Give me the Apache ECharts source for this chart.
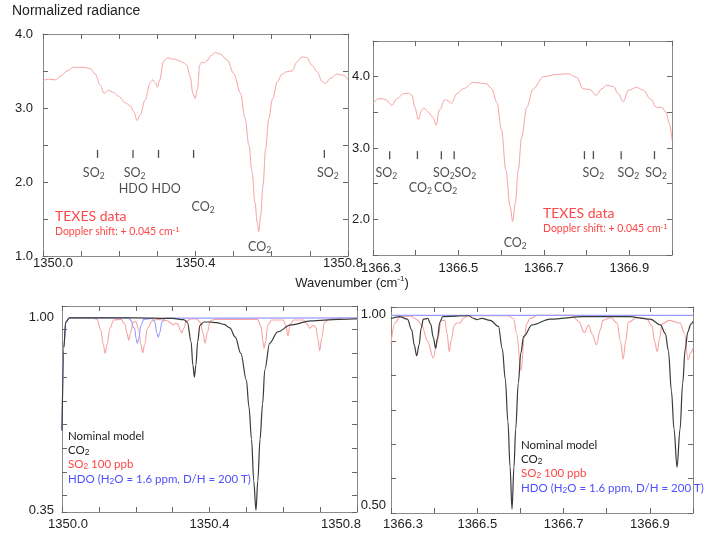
<!DOCTYPE html>
<html>
<head>
<meta charset="utf-8">
<title>Normalized radiance</title>
<script src="https://cdn.jsdelivr.net/npm/echarts@6.0.0/dist/echarts.min.js"></script>
<style>
  html, body { margin: 0; padding: 0; background: #fff; }
  #chart { width: 707px; height: 537px; }
</style>
</head>
<body>
<div id="chart"></div>
<script>
// ---- TEXES spectra (top panels), [wavenumber, radiance] ----
const texesA = [
  [1350.000,3.37],[1350.015,3.39],[1350.032,3.38],[1350.046,3.43],[1350.063,3.50],[1350.080,3.55],
  [1350.107,3.55],[1350.124,3.53],[1350.137,3.46],[1350.150,3.31],[1350.160,3.20],[1350.171,3.24],
  [1350.185,3.21],[1350.198,3.16],[1350.216,3.07],[1350.229,3.03],[1350.238,2.95],[1350.247,2.83],
  [1350.255,2.91],[1350.268,3.11],[1350.281,3.34],[1350.288,3.38],[1350.295,3.34],[1350.300,3.28],
  [1350.306,3.38],[1350.316,3.63],[1350.328,3.68],[1350.338,3.66],[1350.347,3.66],[1350.356,3.64],
  [1350.369,3.61],[1350.377,3.58],[1350.386,3.43],[1350.393,3.20],[1350.399,3.13],[1350.405,3.25],
  [1350.411,3.58],[1350.417,3.62],[1350.423,3.61],[1350.430,3.64],[1350.441,3.71],[1350.452,3.75],
  [1350.465,3.73],[1350.483,3.65],[1350.500,3.47],[1350.518,3.20],[1350.530,2.86],[1350.540,2.50],
  [1350.548,2.15],[1350.556,1.72],[1350.562,1.45],[1350.566,1.33],[1350.571,1.55],[1350.577,1.95],
  [1350.584,2.45],[1350.592,2.85],[1350.602,3.12],[1350.615,3.36],[1350.627,3.46],[1350.640,3.49],
  [1350.653,3.50],[1350.666,3.62],[1350.679,3.69],[1350.692,3.68],[1350.705,3.58],[1350.719,3.49],
  [1350.732,3.36],[1350.740,3.33],[1350.754,3.40],[1350.771,3.46],[1350.789,3.44],[1350.800,3.38]
];
const texesB = [
  [1366.300,3.62],[1366.312,3.69],[1366.324,3.69],[1366.332,3.67],[1366.344,3.60],[1366.356,3.69],
  [1366.371,3.76],[1366.383,3.77],[1366.391,3.74],[1366.398,3.57],[1366.406,3.40],[1366.414,3.53],
  [1366.419,3.56],[1366.430,3.50],[1366.440,3.43],[1366.448,3.32],[1366.455,3.53],[1366.469,3.68],
  [1366.476,3.66],[1366.484,3.63],[1366.496,3.76],[1366.511,3.83],[1366.535,3.92],[1366.551,3.91],
  [1366.566,3.90],[1366.578,3.83],[1366.590,3.64],[1366.601,3.25],[1366.611,2.69],[1366.621,2.18],
  [1366.627,1.97],[1366.633,2.22],[1366.640,2.69],[1366.648,3.15],[1366.660,3.57],[1366.675,3.83],
  [1366.699,4.00],[1366.730,4.03],[1366.757,4.04],[1366.777,3.99],[1366.792,3.83],[1366.808,3.82],
  [1366.822,3.74],[1366.836,3.83],[1366.847,3.88],[1366.863,3.86],[1366.874,3.76],[1366.886,3.65],
  [1366.898,3.81],[1366.917,3.85],[1366.933,3.81],[1366.949,3.69],[1366.964,3.57],[1366.976,3.57],
  [1366.986,3.50],[1366.994,3.34],[1367.000,3.11]
];

// ---- model spectra (bottom panels) ----
const co2C = [
  [1350.000,0.62],[1350.005,0.90],[1350.010,0.985],[1350.020,1.000],[1350.200,1.000],[1350.300,0.998],
  [1350.330,0.994],[1350.340,0.985],[1350.350,0.92],[1350.355,0.84],[1350.359,0.80],[1350.363,0.84],
  [1350.368,0.92],[1350.374,0.975],[1350.385,0.986],[1350.400,0.986],[1350.420,0.984],[1350.440,0.978],
  [1350.455,0.966],[1350.470,0.935],[1350.485,0.880],[1350.500,0.790],[1350.507,0.70],[1350.514,0.59],
  [1350.520,0.45],[1350.526,0.35],[1350.531,0.45],[1350.537,0.59],[1350.544,0.71],[1350.550,0.825],
  [1350.563,0.914],[1350.585,0.953],[1350.620,0.976],[1350.675,0.990],[1350.750,0.995],[1350.800,0.997]
];
const so2C = [
  [1350.000,0.62],[1350.005,0.90],[1350.010,0.985],[1350.020,1.000],[1350.080,1.000],[1350.095,0.995],
  [1350.105,0.96],[1350.112,0.91],[1350.117,0.88],[1350.122,0.91],[1350.130,0.965],[1350.140,0.993],
  [1350.160,0.995],[1350.170,0.98],[1350.176,0.95],[1350.181,0.924],[1350.186,0.95],[1350.193,0.985],
  [1350.200,0.988],[1350.208,0.96],[1350.214,0.91],[1350.219,0.882],[1350.224,0.91],[1350.232,0.965],
  [1350.245,0.99],[1350.260,0.995],[1350.285,0.99],[1350.296,0.982],[1350.302,0.976],[1350.308,0.982],
  [1350.315,0.978],[1350.320,0.96],[1350.325,0.95],[1350.330,0.965],[1350.338,0.99],[1350.350,0.996],
  [1350.365,0.996],[1350.375,0.985],[1350.382,0.95],[1350.388,0.914],[1350.394,0.95],[1350.402,0.99],
  [1350.415,0.995],[1350.530,0.995],[1350.540,0.97],[1350.545,0.92],[1350.548,0.898],[1350.552,0.92],
  [1350.558,0.975],[1350.568,0.993],[1350.600,0.993],[1350.607,0.975],[1350.613,0.939],[1350.618,0.975],
  [1350.628,0.993],[1350.655,0.993],[1350.665,0.978],[1350.672,0.965],[1350.680,0.975],[1350.688,0.97],
  [1350.694,0.93],[1350.699,0.889],[1350.704,0.93],[1350.712,0.985],[1350.725,0.997],[1350.800,0.996]
];
const hdoC = [
  [1350.000,0.62],[1350.005,0.90],[1350.010,0.985],[1350.020,1.000],[1350.180,1.000],[1350.188,0.99],
  [1350.193,0.968],[1350.197,0.965],[1350.201,0.93],[1350.204,0.914],[1350.208,0.93],[1350.214,0.975],
  [1350.222,0.995],[1350.245,0.998],[1350.252,0.985],[1350.257,0.95],[1350.261,0.935],[1350.265,0.95],
  [1350.271,0.985],[1350.280,0.999],[1350.800,1.000]
];
const co2D = [
  [1366.300,0.990],[1366.320,0.995],[1366.338,0.988],[1366.348,0.960],[1366.354,0.920],[1366.3595,0.892],
  [1366.365,0.920],[1366.370,0.965],[1366.375,0.988],[1366.385,0.990],[1366.392,0.975],[1366.398,0.940],
  [1366.4035,0.912],[1366.408,0.940],[1366.413,0.980],[1366.420,0.995],[1366.480,0.997],[1366.492,0.990],
  [1366.4985,0.987],[1366.510,0.990],[1366.530,0.985],[1366.549,0.969],[1366.558,0.910],[1366.565,0.830],
  [1366.571,0.720],[1366.576,0.600],[1366.5805,0.490],[1366.585,0.600],[1366.589,0.700],[1366.595,0.820],
  [1366.601,0.900],[1366.6075,0.943],[1366.627,0.973],[1366.669,0.988],[1366.746,0.995],[1366.850,0.995],
  [1366.901,0.988],[1366.9245,0.973],[1366.936,0.950],[1366.943,0.905],[1366.950,0.800],[1366.956,0.700],
  [1366.963,0.600],[1366.970,0.700],[1366.976,0.820],[1366.982,0.910],[1366.988,0.955],[1366.995,0.975],
  [1367.000,0.982]
];
const so2D = [
  [1366.300,0.925],[1366.309,0.978],[1366.321,0.994],[1366.345,0.996],[1366.359,0.988],[1366.371,0.973],
  [1366.385,0.930],[1366.398,0.886],[1366.407,0.930],[1366.417,0.985],[1366.425,0.985],[1366.430,0.950],
  [1366.435,0.903],[1366.440,0.935],[1366.446,0.970],[1366.452,0.978],[1366.460,0.978],[1366.468,0.991],
  [1366.480,0.997],[1366.570,0.997],[1366.584,0.990],[1366.591,0.952],[1366.6013,0.853],[1366.609,0.940],
  [1366.6145,0.975],[1366.622,0.990],[1366.640,0.998],[1366.720,0.998],[1366.735,0.982],[1366.748,0.953],
  [1366.758,0.973],[1366.766,0.950],[1366.776,0.921],[1366.785,0.960],[1366.791,0.985],[1366.810,0.992],
  [1366.824,0.978],[1366.832,0.930],[1366.838,0.883],[1366.844,0.930],[1366.850,0.980],[1366.870,0.992],
  [1366.892,0.990],[1366.905,0.970],[1366.911,0.930],[1366.917,0.903],[1366.923,0.940],[1366.928,0.975],
  [1366.944,0.985],[1366.970,0.978],[1366.980,0.952],[1366.9885,0.881],[1366.9945,0.900],[1367.000,0.912]
];
const hdoD = [[1366.300,0.998],[1366.650,0.998],[1367.000,0.998]];

// ---- line identifications in the TEXES panels: [wavenumber, radiance, text] ----
const marksA = [[1350.143,2.38],[1350.236,2.38],[1350.303,2.38],[1350.395,2.38],[1350.738,2.38]];
const tagsA = [
  [1350.133,2.12,'SO{s|2}'],[1350.240,2.12,'SO{s|2}'],[1350.237,1.91,'HDO'],[1350.323,1.91,'HDO'],
  [1350.420,1.66,'CO{s|2}'],[1350.568,1.12,'CO{s|2}'],[1350.747,2.12,'SO{s|2}']
];
const marksB = [[1366.339,2.90],[1366.404,2.90],[1366.460,2.90],[1366.490,2.90],
                [1366.795,2.90],[1366.816,2.90],[1366.881,2.90],[1366.959,2.90]];
const tagsB = [
  [1366.331,2.65,'SO{s|2}'],[1366.411,2.44,'CO{s|2}'],[1366.466,2.65,'SO{s|2}'],[1366.470,2.44,'CO{s|2}'],
  [1366.516,2.65,'SO{s|2}'],[1366.816,2.65,'SO{s|2}'],[1366.898,2.65,'SO{s|2}'],[1366.963,2.65,'SO{s|2}'],
  [1366.633,1.67,'CO{s|2}']
];

// ---- tick labels and tick spacing ----
const labels1350 = [1350.0,1350.4,1350.8];
const labels1366 = [1366.3,1366.5,1366.7,1366.9];
const labelsTopA = [1.0,2.0,3.0,4.0];
const labelsTopB = [2.0,3.0,4.0];
const labelsBotC = [0.35,1.00];
const labelsBotD = [0.50,1.00];
const xStep = 0.1;
const topStep = 0.5;
const botStepC = 0.08;   // counted down from the top of the panel (1.04)
const botStepD = 0.09;   // counted up from the bottom of the panel (0.48)

const FRAME = '#8a8a8a';
const TICK = '#666';
const INK = '#222';
const TEXES_RED = '#ff4747';
const LINE_RED = '#f7a3a3';
const LINE_BLUE = '#9a9aff';
const AXIS_FONT = 'Liberation Sans, Arial, sans-serif';
const NOTE_FONT = 'Lato, Open Sans, sans-serif';

const SUB = { s: { fontSize: 8.5, lineHeight: 6, verticalAlign: 'bottom' },
              p: { fontSize: 8, lineHeight: 5, verticalAlign: 'top' } };

function pad(shift) {
  return { padding: shift >= 0 ? [0, 0, 0, 2 * shift] : [0, -2 * shift, 0, 0] };
}

function innerTick() {
  return { show: true, inside: true, length: 5, lineStyle: { color: TICK, width: 1 } };
}
function frameLine() {
  return { show: true, onZero: false, lineStyle: { color: FRAME, width: 1 } };
}

// bottom axis with labels, plus a top twin that only carries ticks
function xPair(gi, min, max, labels, margin, firstShift, lastShift) {
  function base() {
    return {
      type: 'value', gridIndex: gi, min: min, max: max, interval: xStep,
      splitLine: { show: false }, axisLine: frameLine(), axisTick: innerTick()
    };
  }
  return [
    Object.assign(base(), {
      position: 'bottom',
      axisLabel: {
        customValues: labels, margin: margin, color: INK, fontSize: 13, fontFamily: AXIS_FONT,
        formatter: function (v) {
          const t = v.toFixed(1);
          if (Math.abs(v - min) < 1e-6) return '{f|' + t + '}';
          if (Math.abs(v - max) < 1e-6) return '{l|' + t + '}';
          return t;
        },
        rich: { f: pad(firstShift), l: pad(lastShift) }
      }
    }),
    Object.assign(base(), { position: 'top', axisLabel: { show: false } })
  ];
}

// data axis with labels on the left, and two tick-only twins measured from one edge
function yTriple(gi, min, max, labels, digits, margin, step, fromTop) {
  function twin() {
    return {
      type: 'value', gridIndex: gi, min: 0, max: max - min, interval: step, inverse: !!fromTop,
      splitLine: { show: false }, axisLabel: { show: false }, axisTick: innerTick()
    };
  }
  return [
    {
      type: 'value', gridIndex: gi, min: min, max: max, position: 'left',
      splitLine: { show: false }, axisLine: frameLine(), axisTick: { show: false },
      axisLabel: { customValues: labels, margin: margin, color: INK, fontSize: 13, fontFamily: AXIS_FONT,
                   formatter: function (v) { return v.toFixed(digits); } }
    },
    Object.assign(twin(), { position: 'left', axisLine: { show: false } }),
    Object.assign(twin(), { position: 'right', axisLine: frameLine() })
  ];
}

function curve(gi, data, color, width, z) {
  return {
    type: 'line', xAxisIndex: 2 * gi, yAxisIndex: 3 * gi, data: data,
    showSymbol: false, symbol: 'none', smooth: 0.35, smoothMonotone: 'x',
    lineStyle: { color: color, width: width }, silent: true, z: z
  };
}

function marks(gi, data) {
  return {
    type: 'scatter', xAxisIndex: 2 * gi, yAxisIndex: 3 * gi, data: data,
    symbol: 'rect', symbolSize: [1.3, 8], itemStyle: { color: INK }, silent: true, z: 5
  };
}

function tags(gi, data) {
  return {
    type: 'scatter', xAxisIndex: 2 * gi, yAxisIndex: 3 * gi,
    data: data.map(function (d) { return { value: [d[0], d[1]], name: d[2] }; }),
    symbolSize: 1, itemStyle: { color: 'rgba(0,0,0,0)' }, silent: true, z: 5,
    label: {
      show: true, position: 'inside', formatter: function (p) { return p.name; },
      color: INK, fontSize: 12.5, fontFamily: NOTE_FONT, lineHeight: 15, rich: SUB
    }
  };
}

function note(x, y, text, color, size, family, align) {
  return {
    type: 'text', x: x, y: y, silent: true,
    style: {
      text: text, fill: color, fontSize: size, fontFamily: family,
      lineHeight: Math.round(size * 1.25), align: align || 'left', verticalAlign: 'middle', rich: SUB
    }
  };
}

const chart = echarts.init(document.getElementById('chart'), null, { renderer: 'canvas' });

chart.setOption({
  animation: false,
  backgroundColor: '#fff',
  grid: [
    { left: 43, top: 34, width: 305, height: 222, containLabel: false, outerBoundsMode: 'none' },
    { left: 373, top: 41, width: 299, height: 214, containLabel: false, outerBoundsMode: 'none' },
    { left: 62, top: 306, width: 295, height: 206, containLabel: false, outerBoundsMode: 'none' },
    { left: 391, top: 307, width: 302, height: 206, containLabel: false, outerBoundsMode: 'none' }
  ],
  xAxis: [].concat(
    xPair(0, 1350.0, 1350.8, labels1350, 1, 10, -5),
    xPair(1, 1366.3, 1367.0, labels1366, 7, 8, 0),
    xPair(2, 1350.0, 1350.8, labels1350, 6, 6, -16),
    xPair(3, 1366.3, 1367.0, labels1366, 5, 12, 0)
  ),
  yAxis: [].concat(
    yTriple(0, 1.0, 4.0, labelsTopA, 1, 10, topStep, false),
    yTriple(1, 1.5, 4.5, labelsTopB, 1, 3, topStep, false),
    yTriple(2, 0.345, 1.04, labelsBotC, 2, 8, botStepC, true),
    yTriple(3, 0.48, 1.02, labelsBotD, 2, 5, botStepD, false)
  ),
  series: [
    curve(0, texesA, LINE_RED, 1, 2),
    marks(0, marksA),
    tags(0, tagsA),
    curve(1, texesB, LINE_RED, 1, 2),
    marks(1, marksB),
    tags(1, tagsB),
    curve(2, so2C, LINE_RED, 1.1, 2),
    curve(2, hdoC, LINE_BLUE, 1.1, 3),
    curve(2, co2C, '#3a3a3a', 1.2, 4),
    curve(3, so2D, LINE_RED, 1.1, 2),
    curve(3, hdoD, LINE_BLUE, 1.1, 3),
    curve(3, co2D, '#3a3a3a', 1.2, 4)
  ],
  graphic: [
    note(12, 11, 'Normalized radiance', INK, 14, AXIS_FONT),
    note(352, 283, 'Wavenumber (cm{p|-1})', INK, 13, AXIS_FONT, 'center'),
    note(55, 216, 'TEXES data', TEXES_RED, 14, NOTE_FONT),
    note(55, 232, 'Doppler shift: + 0.045 cm{p|-1}', TEXES_RED, 10.5, NOTE_FONT),
    note(543, 213, 'TEXES data', TEXES_RED, 14, NOTE_FONT),
    note(543, 229, 'Doppler shift: + 0.045 cm{p|-1}', TEXES_RED, 10.5, NOTE_FONT),
    note(68, 436, 'Nominal model', INK, 11.5, NOTE_FONT),
    note(68, 450, 'CO{s|2}', INK, 11.5, NOTE_FONT),
    note(68, 464, 'SO{s|2} 100 ppb', TEXES_RED, 11.5, NOTE_FONT),
    note(68, 479, 'HDO (H{s|2}O = 1.6 ppm, D/H = 200 T)', '#5050ff', 11.5, NOTE_FONT),
    note(521, 445, 'Nominal model', INK, 11.5, NOTE_FONT),
    note(521, 459, 'CO{s|2}', INK, 11.5, NOTE_FONT),
    note(521, 473, 'SO{s|2} 100 ppb', TEXES_RED, 11.5, NOTE_FONT),
    note(521, 488, 'HDO (H{s|2}O = 1.6 ppm, D/H = 200 T)', '#5050ff', 11.5, NOTE_FONT)
  ]
});
</script>
</body>
</html>
